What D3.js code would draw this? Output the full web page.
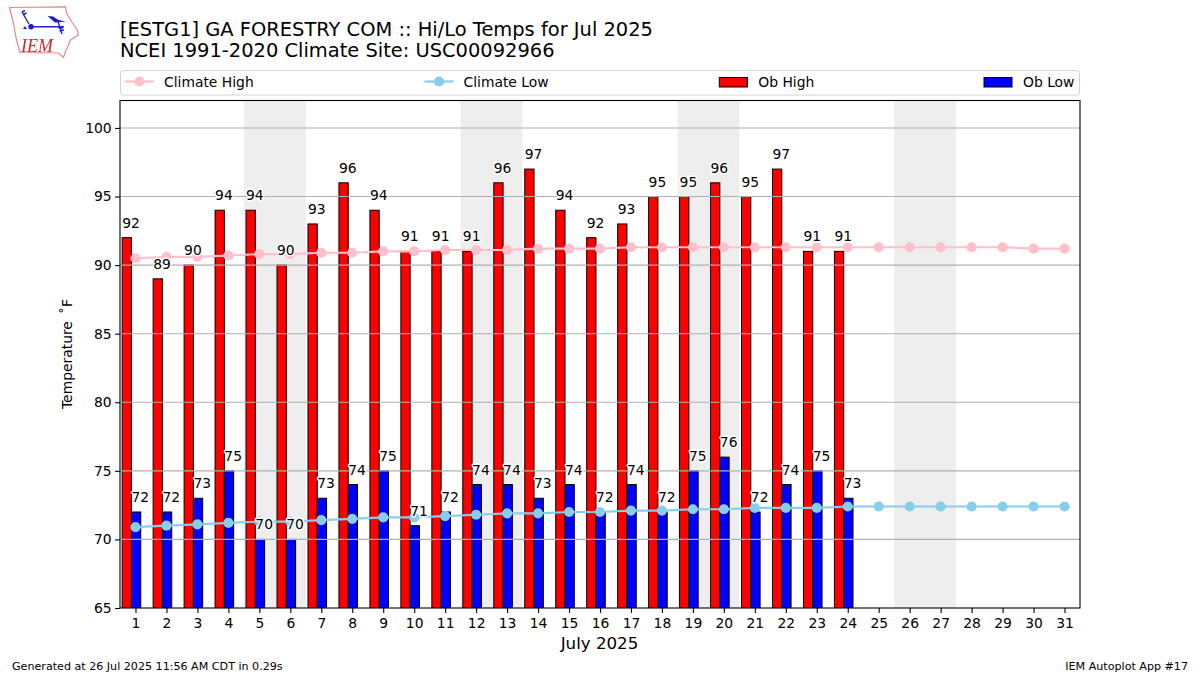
<!DOCTYPE html>
<html>
<head>
<meta charset="utf-8">
<script src="https://cdn.jsdelivr.net/npm/d3@7/dist/d3.min.js"></script>
<style>
html,body{margin:0;padding:0;background:#fff;}
svg{display:block;}
text{font-family:"DejaVu Sans",sans-serif;fill:#000;}
</style>
</head>
<body>
<svg id="c" width="1200" height="675"></svg>
<script>
const days = d3.range(1, 32);
const obHigh = [92,89,90,94,94,90,93,96,94,91,91,91,96,97,94,92,93,95,95,96,95,97,91,91];
const obLow = [72,72,73,75,70,70,73,74,75,71,72,74,74,73,74,72,74,72,75,76,72,74,75,73];
const climateHigh = [90.5,90.6,90.6,90.7,90.8,90.8,90.9,90.9,91.0,91.0,91.1,91.1,91.1,91.2,91.2,91.2,91.3,91.3,91.3,91.3,91.3,91.3,91.3,91.3,91.3,91.3,91.3,91.3,91.3,91.2,91.2];
const climateLow = [70.9,71.0,71.1,71.2,71.3,71.3,71.4,71.5,71.6,71.6,71.7,71.8,71.9,71.9,72.0,72.0,72.1,72.1,72.2,72.2,72.3,72.3,72.3,72.4,72.4,72.4,72.4,72.4,72.4,72.4,72.4];
const weekends = [[5,6],[12,13],[19,20],[26,27]];
const yTicks = [65,70,75,80,85,90,95,100];
const titleLines = ["[ESTG1] GA FORESTRY COM :: Hi/Lo Temps for Jul 2025","NCEI 1991-2020 Climate Site: USC00092966"];
const legendItems = [
  {label:"Climate High",color:"pink",kind:"line",x:125},
  {label:"Climate Low",color:"skyblue",kind:"line",x:424.5},
  {label:"Ob High",color:"red",kind:"bar",x:719.3},
  {label:"Ob Low",color:"blue",kind:"bar",x:984}
];

const L=120,R=1080,T=100.5,B=608;
const svg=d3.select("#c");
const x=d3.scaleLinear().domain([0.5,31.5]).range([L,R]);
const y=d3.scaleLinear().domain([65,102]).range([B,T]);
const barW=0.3, redStart=-0.43;

const defs=svg.append("defs");
defs.append("clipPath").attr("id","plot").append("rect")
  .attr("x",L).attr("y",T).attr("width",R-L).attr("height",B-T);
defs.append("filter").attr("id","soft").append("feGaussianBlur").attr("stdDeviation",0.3);

// logo
const logo=svg.append("g").attr("filter","url(#soft)");
logo.append("path")
  .attr("d","M9.5,7.5 L65.5,6.9 L66.5,13 L71.5,21.5 L77.5,30.5 L78.3,35 L70,40.5 L68.5,45 L65,52.5 L63.5,57.5 L58.5,53 L20,52.5 L16.5,40 L13.5,23.5 Z")
  .attr("fill","#fff").attr("stroke","#e58a8a").attr("stroke-width",1.2);
logo.append("path")
  .attr("d","M31,26.7 L64,26.7 M22,12 L29,24 M22,12 L25,10.5 M23.5,14.5 L26.5,13 M58,21.5 L62,34 M58.5,28 L63,28 M59.5,31 L64,30")
  .attr("fill","none").attr("stroke","#2020cc").attr("stroke-width",1.4);
logo.append("path").attr("d","M47.5,16 L53,16.5 L58.5,20 L66,21.5 L55,22.5 Z").attr("fill","#1a1acc");
logo.append("circle").attr("cx",31).attr("cy",26.7).attr("r",2.7).attr("fill","#1a1acc");
logo.append("path").attr("d","M23,29 L25,26 L27,29 Z").attr("fill","#2020cc");
logo.append("text").attr("x",21).attr("y",52).text("IEM")
  .style("font-family","'Liberation Serif',serif").style("font-style","italic")
  .style("font-size","18px").style("fill","#d42a2a");

// titles
svg.selectAll("text.title").data(titleLines).join("text").attr("class","title")
  .attr("x",120).attr("y",(d,i)=>35.5+i*21.7).style("font-size","19.44px").text(d=>d);

// legend
svg.append("rect").attr("x",120.5).attr("y",70.5).attr("width",959).attr("height",24.5)
  .attr("rx",3).attr("fill","#fff").attr("stroke","#d4d4d4").attr("stroke-width",1);
const lg=svg.selectAll("g.lg").data(legendItems).join("g").attr("class","lg");
lg.each(function(d){
  const g=d3.select(this);
  if(d.kind==="line"){
    g.append("line").attr("x1",d.x).attr("x2",d.x+29).attr("y1",81.5).attr("y2",81.5)
      .attr("stroke",d.color).attr("stroke-width",2.2);
    g.append("circle").attr("cx",d.x+14.5).attr("cy",81.5).attr("r",5.1).attr("fill",d.color);
  } else {
    g.append("rect").attr("x",d.x).attr("y",77.5).attr("width",28).attr("height",9.5)
      .attr("fill",d.color).attr("stroke","#000").attr("stroke-width",1);
  }
  g.append("text").attr("x",d.x+39).attr("y",86.5)
    .style("font-size","13.89px").text(d.label);
});

// weekend shading
svg.append("g").selectAll("rect").data(weekends).join("rect")
  .attr("x",d=>x(d[0]-0.5)).attr("width",d=>x(d[1]+0.5)-x(d[0]-0.5))
  .attr("y",T).attr("height",B-T).attr("fill","#eeeeee");

// bars
const plot=svg.append("g").attr("clip-path","url(#plot)");
plot.append("g").selectAll("rect").data(obHigh).join("rect")
  .attr("x",(d,i)=>x(days[i]+redStart)).attr("width",x(barW)-x(0))
  .attr("y",d=>y(d)).attr("height",d=>y(65)-y(d)+2)
  .attr("fill","red").attr("stroke","#000").attr("stroke-width",1);
plot.append("g").selectAll("rect").data(obLow).join("rect")
  .attr("x",(d,i)=>x(days[i]+redStart+barW)).attr("width",x(barW)-x(0))
  .attr("y",d=>y(d)).attr("height",d=>y(65)-y(d)+2)
  .attr("fill","blue").attr("stroke","#000").attr("stroke-width",1);

// grid
svg.append("g").selectAll("line").data(yTicks.filter(d=>d>65)).join("line")
  .attr("x1",L).attr("x2",R).attr("y1",d=>y(d)).attr("y2",d=>y(d))
  .attr("stroke","#b0b0b0").attr("stroke-width",1.1);

// climate lines
const ln=d3.line().x((d,i)=>x(days[i])).y(d=>y(d));
[[climateHigh,"pink"],[climateLow,"skyblue"]].forEach(([s,c])=>{
  plot.append("path").datum(s).attr("d",ln).attr("fill","none").attr("stroke",c).attr("stroke-width",2.2);
  plot.append("g").selectAll("circle").data(s).join("circle")
    .attr("cx",(d,i)=>x(days[i])).attr("cy",d=>y(d)).attr("r",5.1).attr("fill",c);
});

// value labels
function labels(s,off){
  svg.append("g").selectAll("text").data(s).join("text")
    .attr("x",(d,i)=>x(days[i]+off)).attr("y",d=>y(d)-10)
    .style("font-size","13.89px").style("paint-order","stroke")
    .style("stroke","#fff").style("stroke-width","2.8px").style("stroke-linejoin","round")
    .text(d=>d);
}
labels(obHigh,redStart);
labels(obLow,redStart+barW);

// axes
const ax=svg.append("g").attr("transform",`translate(0,${B})`)
  .call(d3.axisBottom(x).tickValues(days).tickFormat(d3.format("d")).tickSize(4.9).tickPadding(5));
const ay=svg.append("g").attr("transform",`translate(${L},0)`)
  .call(d3.axisLeft(y).tickValues(yTicks).tickFormat(d3.format("d")).tickSize(4.9).tickPadding(3.5));
[ax,ay].forEach(a=>{
  a.select(".domain").remove();
  a.selectAll("line").attr("stroke","#000").attr("stroke-width",1.1);
  a.selectAll("text").style("font-size","13.89px").style("font-family","'DejaVu Sans',sans-serif");
});
svg.append("rect").attr("x",L).attr("y",T).attr("width",R-L).attr("height",B-T)
  .attr("fill","none").attr("stroke","#000").attr("stroke-width",1.1);

// axis titles
svg.append("text").attr("x",599.5).attr("y",649).attr("text-anchor","middle")
  .style("font-size","16.67px").text("July 2025");
svg.append("text").attr("transform","translate(72,354) rotate(-90)").attr("text-anchor","middle")
  .style("font-size","13.89px").text("Temperature \u2009˚F");

// footer
svg.append("text").attr("x",12).attr("y",670).style("font-size","11.11px").text("Generated at 26 Jul 2025 11:56 AM CDT in 0.29s");
svg.append("text").attr("x",1188).attr("y",670).attr("text-anchor","end").style("font-size","11.11px").text("IEM Autoplot App #17");
</script>
</body>
</html>
